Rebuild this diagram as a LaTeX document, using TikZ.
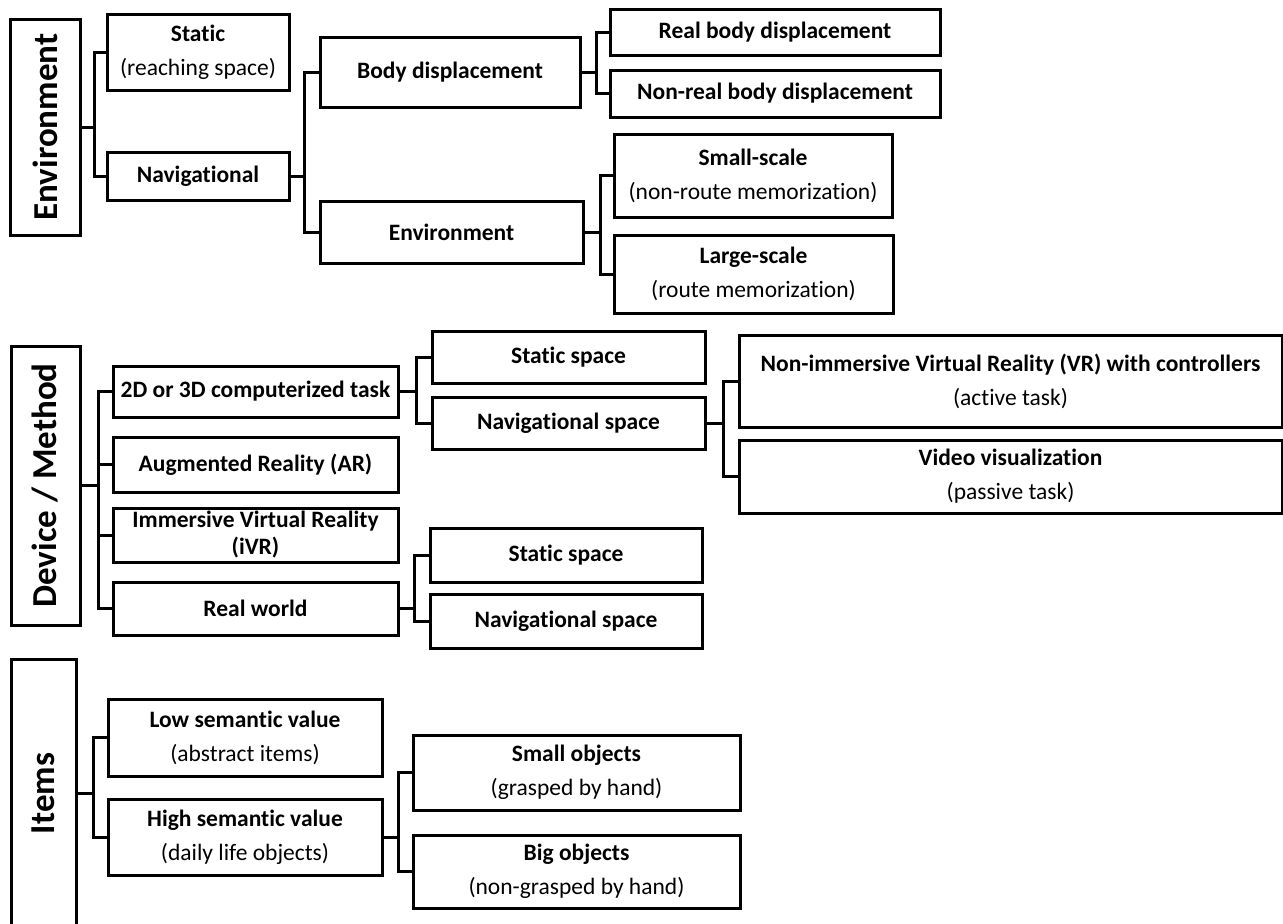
\documentclass[tikz,border=0pt]{standalone}
\usepackage{fontspec}
\setmainfont{Carlito}[Ligatures=NoCommon]
\usepackage{tikz}
\usetikzlibrary{positioning}

\begin{document}
\begin{tikzpicture}[
    x=1pt, y=-1pt,
    box/.style={draw=black, line width=3pt, inner sep=0pt, align=center, font=\fontsize{23.5}{34}\selectfont\bfseries},
    title/.style={draw=black, line width=3pt, inner sep=0pt, rotate=90, font=\fontsize{35}{42}\selectfont\bfseries},
    edge/.style={line width=3pt, black},
]
    \useasboundingbox (0,0) rectangle (1283,924);
    \fill[white] (0,0) rectangle (1283,924);

    % --- Environment (top):
    \node[title, minimum width=216pt, minimum height=70pt] (Env) at (45,127) {Environment};
    \node[box, minimum width=182pt, minimum height=76pt] (EnvS) at (198,52) {Static\\{\mdseries (reaching space)}};
    \node[box, minimum width=182pt, minimum height=48pt] (EnvN) at (198,176) {Navigational};
    \node[box, minimum width=260pt, minimum height=70pt] (EnvBD) at (450,72) {Body displacement};
    \node[box, minimum width=263pt, minimum height=62pt] (EnvE) at (451.5,232) {Environment};
    \node[box, minimum width=330pt, minimum height=46pt] (EnvRB) at (775,32) {Real body displacement};
    \node[box, minimum width=330pt, minimum height=47pt] (EnvNR) at (775,93.5) {Non-real body displacement};
    \node[box, minimum width=278pt, minimum height=83pt] (EnvSS) at (753,175.5) {Small-scale\\{\mdseries (non-route memorization)}};
    \node[box, minimum width=279pt, minimum height=78pt] (EnvLS) at (753.5,274) {Large-scale\\{\mdseries (route memorization)}};

    \draw[edge] (Env.south) -- ++(13,0) |- (EnvS.west);
    \draw[edge] (Env.south) -- ++(13,0) |- (EnvN.west);
    \draw[edge] (EnvN.east) -- ++(14,0) |- (EnvBD.west);
    \draw[edge] (EnvN.east) -- ++(14,0) |- (EnvE.west);
    \draw[edge] (EnvBD.east) -- ++(15,0) |- (EnvRB.west);
    \draw[edge] (EnvBD.east) -- ++(15,0) |- (EnvNR.west);
    \draw[edge] (EnvE.east) -- ++(16,0) |- (EnvSS.west);
    \draw[edge] (EnvE.east) -- ++(16,0) |- (EnvLS.west);

    % --- Device / Method (middle):
    \node[title, minimum width=279pt, minimum height=69pt] (Dev) at (45.5,485.5) {Device / Method};
    \node[box, minimum width=285pt, minimum height=51pt] (Dev2D) at (255.5,391.5) {2D or 3D computerized task};
    \node[box, minimum width=285pt, minimum height=55pt] (DevAR) at (255.5,464.5) {Augmented Reality (AR)};
    \node[box, minimum width=285pt, minimum height=54pt, font=\fontsize{23.5}{27}\selectfont\bfseries] (DevIVR) at (255.5,535) {Immersive Virtual Reality\\(iVR)};
    \node[box, minimum width=285pt, minimum height=53pt] (DevRW) at (255.5,608.5) {Real world};
    \node[box, minimum width=273pt, minimum height=52pt] (DevSS1) at (568.5,357) {Static space};
    \node[box, minimum width=273pt, minimum height=52pt] (DevNS1) at (568.5,423) {Navigational space};
    \node[box, minimum width=543pt, minimum height=92pt] (DevNI) at (1010.5,381) {Non-immersive Virtual Reality (VR) with controllers\\{\mdseries (active task)}};
    \node[box, minimum width=543pt, minimum height=73pt] (DevVV) at (1010.5,476.5) {Video visualization\\{\mdseries (passive task)}};
    \node[box, minimum width=272pt, minimum height=54pt] (DevSS2) at (566,555) {Static space};
    \node[box, minimum width=272pt, minimum height=54pt] (DevNS2) at (566,621) {Navigational space};

    \draw[edge] (Dev.south) -- ++(17,0) |- (Dev2D.west);
    \draw[edge] (Dev.south) -- ++(17,0) |- (DevAR.west);
    \draw[edge] (Dev.south) -- ++(17,0) |- (DevIVR.west);
    \draw[edge] (Dev.south) -- ++(17,0) |- (DevRW.west);
    \draw[edge] (Dev2D.east) -- ++(17,0) |- (DevSS1.west);
    \draw[edge] (Dev2D.east) -- ++(17,0) |- (DevNS1.west);
    \draw[edge] (DevNS1.east) -- ++(17,0) |- (DevNI.west);
    \draw[edge] (DevNS1.east) -- ++(17,0) |- (DevVV.west);
    \draw[edge] (DevRW.east) -- ++(15,0) |- (DevSS2.west);
    \draw[edge] (DevRW.east) -- ++(15,0) |- (DevNS2.west);

    % --- Items (bottom):
    \node[title, minimum width=269pt, minimum height=65pt] (Itm) at (43.5,793.5) {Items};
    \node[box, minimum width=274pt, minimum height=77pt] (ItmLo) at (245,737.5) {Low semantic value\\{\mdseries (abstract items)}};
    \node[box, minimum width=274pt, minimum height=76pt] (ItmHi) at (245,837) {High semantic value\\{\mdseries (daily life objects)}};
    \node[box, minimum width=327pt, minimum height=75pt] (ItmSO) at (576.5,772.5) {Small objects\\{\mdseries (grasped by hand)}};
    \node[box, minimum width=327pt, minimum height=73pt] (ItmBO) at (576.5,871.5) {Big objects\\{\mdseries (non-grasped by hand)}};

    \draw[edge] (Itm.south) -- ++(16,0) |- (ItmLo.west);
    \draw[edge] (Itm.south) -- ++(16,0) |- (ItmHi.west);
    \draw[edge] (ItmHi.east) -- ++(15,0) |- (ItmSO.west);
    \draw[edge] (ItmHi.east) -- ++(15,0) |- (ItmBO.west);

\end{tikzpicture}
\end{document}
